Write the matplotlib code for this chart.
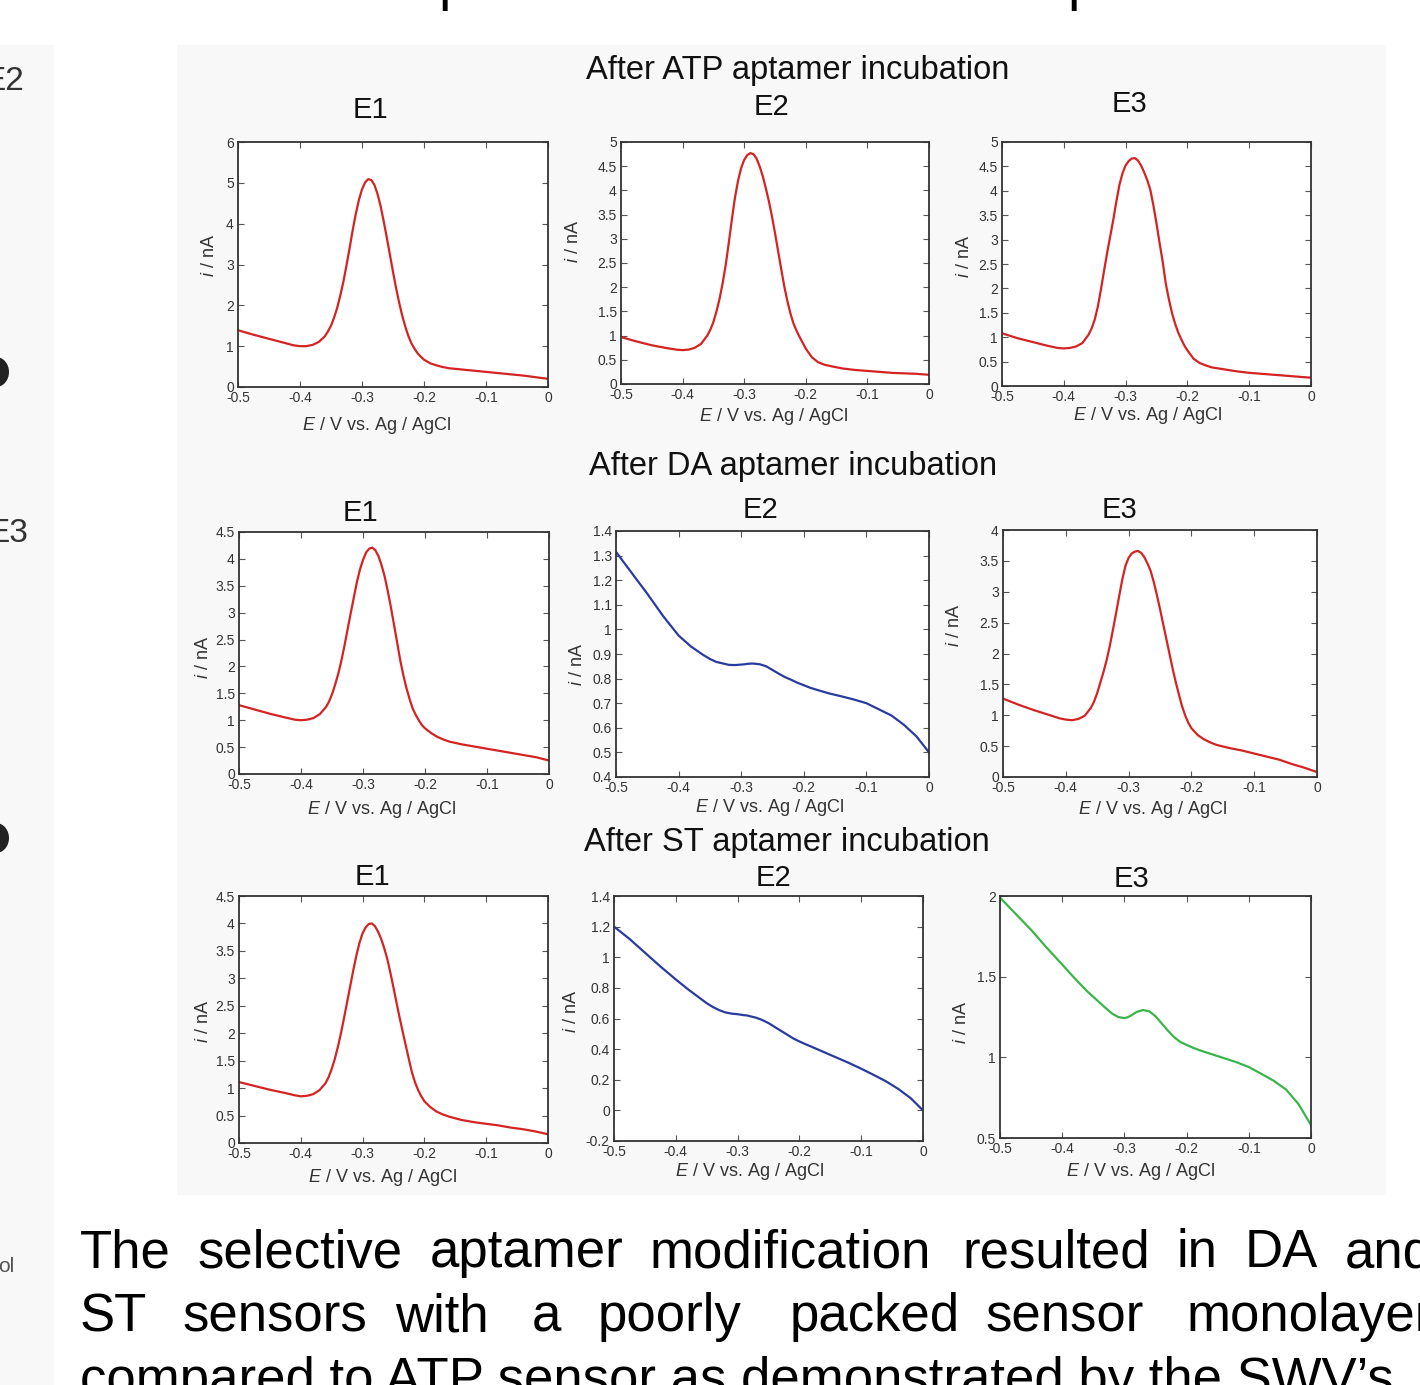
import matplotlib
matplotlib.use('Agg')
import matplotlib.pyplot as plt
from matplotlib.patches import Rectangle, Ellipse
from matplotlib.ticker import MultipleLocator, FuncFormatter

W, H = 1420, 1385
plt.rcParams['font.family'] = ['Liberation Sans', 'DejaVu Sans']
plt.rcParams['mathtext.fontset'] = 'custom'
plt.rcParams['mathtext.rm'] = 'Liberation Sans'
plt.rcParams['mathtext.it'] = 'Liberation Sans:italic'

# potential grid (V vs Ag/AgCl) for the curves with a sharp peak
E_fine = [-0.5, -0.475, -0.45, -0.425, -0.41, -0.40, -0.39, -0.38, -0.37, -0.36,
          -0.355, -0.35, -0.345, -0.34, -0.335, -0.33, -0.325, -0.32, -0.315, -0.31,
          -0.305, -0.30, -0.295, -0.29, -0.285, -0.28, -0.275, -0.27, -0.265, -0.26,
          -0.255, -0.25, -0.245, -0.24, -0.235, -0.23, -0.225, -0.22, -0.215, -0.21,
          -0.205, -0.20, -0.19, -0.18, -0.17, -0.16, -0.14, -0.12, -0.10, -0.08,
          -0.06, -0.04, -0.02, 0.0]
# coarser grid for the flat (poorly packed) curves
E = [-0.5, -0.475, -0.45, -0.425, -0.40, -0.38, -0.36, -0.35, -0.34, -0.33,
     -0.32, -0.31, -0.30, -0.295, -0.29, -0.285, -0.28, -0.27, -0.26, -0.25,
     -0.24, -0.23, -0.22, -0.21, -0.20, -0.19, -0.18, -0.16, -0.14, -0.12,
     -0.10, -0.08, -0.06, -0.04, -0.02, 0.0]

# currents (nA)
atp_e1 = [1.39, 1.28, 1.18, 1.08, 1.02, 1.00, 1.00, 1.03, 1.10, 1.24,
          1.36, 1.50, 1.70, 1.94, 2.24, 2.58, 2.98, 3.40, 3.84, 4.24,
          4.58, 4.84, 5.01, 5.09, 5.07, 4.95, 4.73, 4.43, 4.06, 3.66,
          3.24, 2.82, 2.42, 2.06, 1.74, 1.47, 1.24, 1.06, 0.93, 0.82,
          0.74, 0.67, 0.58, 0.53, 0.49, 0.46, 0.43, 0.40, 0.37, 0.34,
          0.31, 0.28, 0.24, 0.20]
atp_e2 = [0.97, 0.88, 0.80, 0.74, 0.71, 0.70, 0.71, 0.75, 0.83, 1.00,
          1.12, 1.28, 1.50, 1.76, 2.08, 2.46, 2.92, 3.40, 3.85, 4.20,
          4.46, 4.63, 4.73, 4.77, 4.75, 4.66, 4.50, 4.30, 4.05, 3.78,
          3.47, 3.12, 2.75, 2.38, 2.02, 1.72, 1.46, 1.25, 1.10, 0.97,
          0.85, 0.73, 0.55, 0.45, 0.40, 0.37, 0.32, 0.29, 0.27, 0.25,
          0.23, 0.22, 0.21, 0.19]
atp_e3 = [1.08, 0.98, 0.90, 0.82, 0.78, 0.77, 0.78, 0.81, 0.88, 1.05,
          1.18, 1.36, 1.62, 1.97, 2.35, 2.72, 3.06, 3.40, 3.78, 4.12,
          4.36, 4.52, 4.61, 4.66, 4.67, 4.62, 4.52, 4.38, 4.22, 4.02,
          3.70, 3.33, 2.93, 2.55, 2.10, 1.78, 1.50, 1.28, 1.10, 0.96,
          0.83, 0.73, 0.56, 0.47, 0.42, 0.38, 0.34, 0.30, 0.27, 0.25,
          0.23, 0.21, 0.19, 0.17]
da_e1 = [1.28, 1.20, 1.12, 1.05, 1.01, 1.00, 1.01, 1.04, 1.11, 1.24,
         1.34, 1.48, 1.66, 1.86, 2.10, 2.38, 2.68, 2.98, 3.27, 3.56,
         3.80, 3.98, 4.12, 4.19, 4.21, 4.16, 4.05, 3.88, 3.67, 3.40,
         3.10, 2.78, 2.45, 2.12, 1.84, 1.60, 1.40, 1.22, 1.10, 1.00,
         0.91, 0.85, 0.76, 0.69, 0.64, 0.60, 0.55, 0.51, 0.47, 0.43,
         0.39, 0.35, 0.31, 0.25]
da_e2 = [1.315, 1.23, 1.145, 1.055, 0.975, 0.93, 0.895, 0.88, 0.868, 0.862,
         0.856, 0.855, 0.857, 0.858, 0.86, 0.861, 0.861, 0.858, 0.85, 0.835,
         0.82, 0.806, 0.795, 0.783, 0.773, 0.763, 0.755, 0.74, 0.728, 0.715,
         0.70, 0.675, 0.65, 0.612, 0.565, 0.50]
da_e3 = [1.27, 1.17, 1.08, 1.00, 0.95, 0.93, 0.92, 0.94, 0.99, 1.12,
         1.22, 1.36, 1.53, 1.70, 1.89, 2.12, 2.38, 2.65, 2.93, 3.20,
         3.42, 3.55, 3.62, 3.65, 3.66, 3.63, 3.56, 3.46, 3.34, 3.16,
         2.95, 2.72, 2.48, 2.24, 2.00, 1.76, 1.54, 1.34, 1.15, 1.00,
         0.88, 0.79, 0.68, 0.61, 0.56, 0.52, 0.47, 0.43, 0.38, 0.33,
         0.28, 0.21, 0.15, 0.08]
st_e1 = [1.11, 1.04, 0.97, 0.91, 0.87, 0.85, 0.86, 0.89, 0.96, 1.09,
         1.20, 1.35, 1.53, 1.75, 2.00, 2.28, 2.57, 2.86, 3.15, 3.42,
         3.65, 3.82, 3.93, 3.99, 4.00, 3.95, 3.85, 3.72, 3.55, 3.35,
         3.10, 2.83, 2.55, 2.28, 2.02, 1.77, 1.52, 1.28, 1.10, 0.96,
         0.85, 0.76, 0.65, 0.57, 0.52, 0.48, 0.42, 0.38, 0.35, 0.32,
         0.28, 0.25, 0.21, 0.16]
st_e2 = [1.20, 1.12, 1.03, 0.94, 0.855, 0.79, 0.73, 0.70, 0.675, 0.655,
         0.64, 0.632, 0.628, 0.625, 0.622, 0.62, 0.615, 0.605, 0.59, 0.57,
         0.545, 0.52, 0.495, 0.47, 0.45, 0.432, 0.415, 0.38, 0.345, 0.31,
         0.272, 0.232, 0.19, 0.14, 0.08, 0.0]
st_e3 = [1.99, 1.89, 1.79, 1.68, 1.575, 1.49, 1.41, 1.375, 1.34, 1.305,
         1.272, 1.25, 1.243, 1.248, 1.258, 1.27, 1.282, 1.293, 1.285, 1.255,
         1.21, 1.165, 1.125, 1.095, 1.077, 1.06, 1.045, 1.02, 0.995, 0.97,
         0.94, 0.898, 0.855, 0.8, 0.71, 0.58]

curves = [atp_e1, atp_e2, atp_e3, da_e1, da_e2, da_e3, st_e1, st_e2, st_e3]
grids = [E_fine, E_fine, E_fine, E_fine, E, E_fine, E_fine, E, E]
names = ['E1', 'E2', 'E3'] * 3
ylims = [(0, 6, 1), (0, 5, 0.5), (0, 5, 0.5),
         (0, 4.5, 0.5), (0.4, 1.4, 0.1), (0, 4, 0.5),
         (0, 4.5, 0.5), (-0.2, 1.4, 0.2), (0.5, 2, 0.5)]
section_titles = ['After ATP aptamer incubation', 'After DA aptamer incubation',
                  'After ST aptamer incubation']

RED, BLUE, GREEN = '#d42323', '#2a3b9f', '#3ab54a'
colors = [RED, RED, RED, RED, BLUE, RED, RED, BLUE, GREEN]

# pixel boxes (x0, y0, x1, y1) of each plot frame
boxes = [(238, 142, 548, 387), (621, 142, 929, 384), (1002, 142, 1311, 386),
         (239, 532, 549, 774), (616, 531, 929, 777), (1003, 530, 1317, 777),
         (239, 896, 548, 1143), (614, 896, 923, 1141), (1000, 896, 1311, 1138)]
xlab_pos = [(376, 425), (773, 417), (1147, 415), (381, 810), (769, 807),
            (1152, 810), (382, 1177), (749, 1172), (1140, 1171)]
ylab_pos = [(209, 256), (573, 242), (965, 257), (203, 658), (578, 665),
            (955, 626), (203, 1022), (572, 1012), (962, 1023)]
name_pos = [(370, 110), (771, 107), (1129, 104),
            (360, 513), (761, 510), (1119, 510),
            (372, 877), (773, 878), (1131, 879)]
section_pos = [(798, 70), (793, 466), (787, 842)]

fig = plt.figure(figsize=(W / 100, H / 100), dpi=100, facecolor='white')

# slide background pieces
bg = fig.add_axes([0, 0, 1, 1], zorder=-5)
bg.set_xlim(0, W)
bg.set_ylim(H, 0)
bg.axis('off')
bg.add_patch(Rectangle((177, 45), 1209, 1150, color='#f8f8f8', lw=0))
bg.add_patch(Rectangle((0, 45), 54, 1340, color='#f8f8f8', lw=0))
for yc in (372, 838):
    bg.add_patch(Ellipse((-4, yc), 26, 30, color='#222222', lw=0))
bg.text(24, 82, 'E2', fontsize=24, color='#333333', ha='right', va='center')
bg.text(28, 534, 'E3', fontsize=24, color='#333333', ha='right', va='center')
bg.text(14, 1266, 'ol', fontsize=15, color='#555555', ha='right', va='center')
for xp in (438, 1067):
    bg.text(xp, -1, 'p', fontsize=40, color='black', ha='left', va='baseline')

fmt = FuncFormatter(lambda v, p: '%g' % (round(v, 6) + 0.0))

for k in range(9):
    x0, y0, x1, y1 = boxes[k]
    bw, bh = x1 - x0, y1 - y0
    ax = fig.add_axes([x0 / W, 1 - y1 / H, bw / W, bh / H])
    ax.plot(grids[k], curves[k], color=colors[k], lw=1.6)
    lo, hi, step = ylims[k]
    ax.set_xlim(-0.5, 0)
    ax.set_ylim(lo, hi)
    ax.xaxis.set_major_locator(MultipleLocator(0.1))
    ax.yaxis.set_major_locator(MultipleLocator(step))
    ax.xaxis.set_major_formatter(fmt)
    ax.yaxis.set_major_formatter(fmt)
    ax.tick_params(direction='in', top=True, right=True, length=4, width=0.8,
                   color='#555555', labelsize=10, labelcolor='#333333', pad=3)
    for sp in ax.spines.values():
        sp.set_color('#333333')
        sp.set_linewidth(1.3)
    ax.set_xlabel('$\\it{E}$ / V vs. Ag / AgCl', fontsize=13, color='#333333')
    ax.set_ylabel('$\\it{i}$ / nA', fontsize=13, color='#333333')
    lx, ly = xlab_pos[k]
    ax.xaxis.set_label_coords((lx - x0) / bw, (y1 - ly) / bh)
    ax.xaxis.label.set_va('center')
    px, py = ylab_pos[k]
    ax.yaxis.set_label_coords((px - x0) / bw, (y1 - py) / bh)
    ax.yaxis.label.set_va('center')
    ax.set_facecolor('white')
    nx, ny = name_pos[k]
    fig.text(nx / W, 1 - ny / H, names[k], fontsize=21, ha='center', va='center', color='#111111')

for t, (sx, sy) in zip(section_titles, section_pos):
    fig.text(sx / W, 1 - sy / H, t, fontsize=23.5, ha='center', va='center', color='#111111')

# body paragraph (justified on the slide)
line1 = ['The', 'selective', 'aptamer', 'modification', 'resulted', 'in', 'DA', 'and']
line1_x = [80, 197, 430, 650, 962, 1176, 1245, 1345]
line2 = ['ST', 'sensors', 'with', 'a', 'poorly', 'packed', 'sensor', 'monolayer']
line2_x = [80, 182, 395, 532, 598, 790, 985, 1187]
for words, xs, yb in ((line1, line1_x, 1267), (line2, line2_x, 1331)):
    for w, xw in zip(words, xs):
        fig.text(xw / W, 1 - yb / H, w, fontsize=38, ha='left', va='baseline', color='black')
fig.text(80 / W, 1 - 1395 / H, "compared to ATP sensor as demonstrated by the SWV\u2019s",
         fontsize=38, ha='left', va='baseline', color='black')

fig.savefig('out.png', dpi=100, facecolor='white')
